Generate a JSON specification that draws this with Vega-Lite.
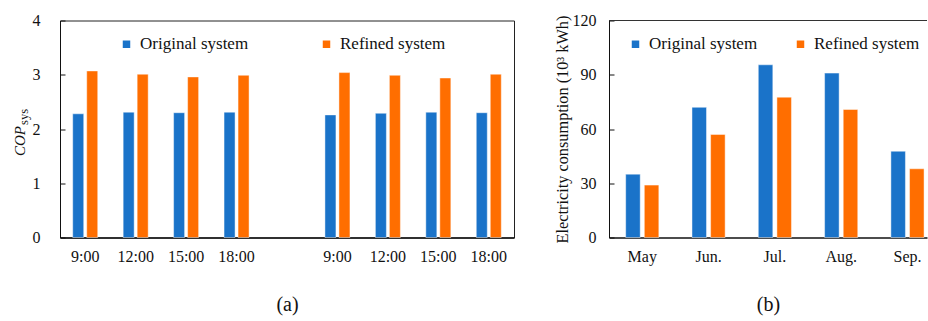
{
  "$schema": "https://vega.github.io/schema/vega-lite/v6.json",
  "padding": {"left": 11, "top": 11.5, "right": 0, "bottom": 0},
  "background": "white",
  "config": {
    "font": "Liberation Serif",
    "view": {"stroke": "#222", "strokeWidth": 1},
    "axis": {"labelFont": "Liberation Serif", "labelFontSize": 16, "labelColor": "#111", "titleFont": "Liberation Serif", "titleFontWeight": "normal", "titleColor": "#111", "grid": false, "domainColor": "#111", "tickColor": "#111"},
    "legend": {"labelFont": "Liberation Serif", "labelFontSize": 17, "labelColor": "#111", "padding": 0, "symbolType": "square", "symbolSize": 56, "symbolStrokeWidth": 0, "labelOffset": 5, "rowPadding": 0}
  },
  "datasets": {
    "cop": [
      {"slot": "1|9:00", "system": "Original system", "value": 2.28},
      {"slot": "1|9:00", "system": "Refined system", "value": 3.07},
      {"slot": "2|12:00", "system": "Original system", "value": 2.31},
      {"slot": "2|12:00", "system": "Refined system", "value": 3.01},
      {"slot": "3|15:00", "system": "Original system", "value": 2.30},
      {"slot": "3|15:00", "system": "Refined system", "value": 2.96},
      {"slot": "4|18:00", "system": "Original system", "value": 2.31},
      {"slot": "4|18:00", "system": "Refined system", "value": 2.99},
      {"slot": "6|9:00", "system": "Original system", "value": 2.26},
      {"slot": "6|9:00", "system": "Refined system", "value": 3.04},
      {"slot": "7|12:00", "system": "Original system", "value": 2.29},
      {"slot": "7|12:00", "system": "Refined system", "value": 2.99},
      {"slot": "8|15:00", "system": "Original system", "value": 2.31},
      {"slot": "8|15:00", "system": "Refined system", "value": 2.94},
      {"slot": "9|18:00", "system": "Original system", "value": 2.30},
      {"slot": "9|18:00", "system": "Refined system", "value": 3.01}
    ],
    "elec": [
      {"month": "May", "system": "Original system", "value": 35},
      {"month": "May", "system": "Refined system", "value": 29},
      {"month": "Jun.", "system": "Original system", "value": 72},
      {"month": "Jun.", "system": "Refined system", "value": 57},
      {"month": "Jul.", "system": "Original system", "value": 95.5},
      {"month": "Jul.", "system": "Refined system", "value": 77.6},
      {"month": "Aug.", "system": "Original system", "value": 90.9},
      {"month": "Aug.", "system": "Refined system", "value": 70.8},
      {"month": "Sep.", "system": "Original system", "value": 47.7},
      {"month": "Sep.", "system": "Refined system", "value": 38}
    ]
  },
  "resolve": {"scale": {"color": "independent", "x": "independent", "y": "independent", "xOffset": "independent"}, "legend": {"color": "independent"}},
  "spacing": 38,
  "hconcat": [
    {
      "width": 454,
      "height": 217,
      "data": {"name": "cop"},
      "layer": [
        {
          "mark": {"type": "bar", "stroke": "white", "strokeOpacity": 0.45, "strokeWidth": 1},
          "encoding": {
            "x": {"field": "slot", "type": "nominal",
              "scale": {"domain": ["1|9:00", "2|12:00", "3|15:00", "4|18:00", "5|", "6|9:00", "7|12:00", "8|15:00", "9|18:00"], "paddingInner": 0.504, "paddingOuter": 0.252},
              "axis": {"labelExpr": "split(datum.value, '|')[1]", "labelAngle": 0, "ticks": false, "domainWidth": 1.5, "labelPadding": 11, "title": "(a)", "titleFontSize": 20, "titlePadding": 30}},
            "xOffset": {"field": "system", "type": "nominal", "scale": {"domain": ["Original system", "Refined system"], "paddingInner": 0.214, "paddingOuter": 0}},
            "y": {"field": "value", "type": "quantitative", "scale": {"domain": [0, 4]},
              "axis": {"values": [0, 1, 2, 3, 4], "tickSize": -5, "labelPadding": 25, "title": "COP", "titleFontStyle": "italic", "titleFontSize": 15, "titleAngle": 270, "titleAlign": "center", "titleBaseline": "alphabetic", "titleX": -36, "titleY": 120}},
            "color": {"field": "system", "type": "nominal",
              "scale": {"domain": ["Original system", "Refined system"], "range": ["#1a73c9", "#ff6e00"]},
              "legend": {"orient": "none", "legendX": 58, "legendY": 15, "direction": "horizontal", "columns": 2, "columnPadding": 69, "title": null, "labelFont": "Liberation Serif"}}
          }
        },
        {
          "mark": {"type": "rule", "opacity": 0},
          "encoding": {
            "y": {"datum": 0, "type": "quantitative", "scale": {"domain": [0, 4]},
              "axis": {"orient": "left", "labels": false, "ticks": false, "domain": false, "title": "sys", "titleFontSize": 12.5, "titleAngle": 270, "titleAlign": "center", "titleBaseline": "alphabetic", "titleX": -33, "titleY": 96}}
          }
        }
      ],
      "resolve": {"scale": {"y": "independent"}, "axis": {"y": "independent"}}
    },
    {
      "width": 318,
      "height": 217,
      "view": {"stroke": null},
      "data": {"name": "elec"},
      "layer": [
        {
          "mark": {"type": "bar", "stroke": "white", "strokeOpacity": 0.45, "strokeWidth": 1},
          "encoding": {
            "x": {"field": "month", "type": "nominal",
              "scale": {"domain": ["May", "Jun.", "Jul.", "Aug.", "Sep."], "paddingInner": 0.5, "paddingOuter": 0.148, "align": 0.85},
              "axis": {"labelAngle": 0, "ticks": false, "domainWidth": 1.5, "labelPadding": 11, "title": "(b)", "titleFontSize": 20, "titlePadding": 30}},
            "xOffset": {"field": "system", "type": "nominal", "scale": {"domain": ["Original system", "Refined system"], "paddingInner": 0.22, "paddingOuter": 0}},
            "y": {"field": "value", "type": "quantitative", "scale": {"domain": [0, 120]},
              "axis": {"values": [0, 30, 60, 90, 120], "tickSize": -5, "labelPadding": 18, "title": "Electricity consumption (10³ kWh)", "titleFontSize": 16.3, "titleAngle": 270, "titleAlign": "center", "titleBaseline": "alphabetic", "titleX": -42}},
            "color": {"field": "system", "type": "nominal",
              "scale": {"domain": ["Original system", "Refined system"], "range": ["#1a73c9", "#ff6e00"]},
              "legend": {"orient": "none", "legendX": 18, "legendY": 15, "direction": "horizontal", "columns": 2, "columnPadding": 34, "title": null, "labelFont": "Liberation Serif"}}
          }
        },
        {
          "mark": {"type": "rule", "color": "#333", "strokeWidth": 1},
          "encoding": {"y": {"datum": 120, "type": "quantitative"}}
        }
      ]
    }
  ]
}
